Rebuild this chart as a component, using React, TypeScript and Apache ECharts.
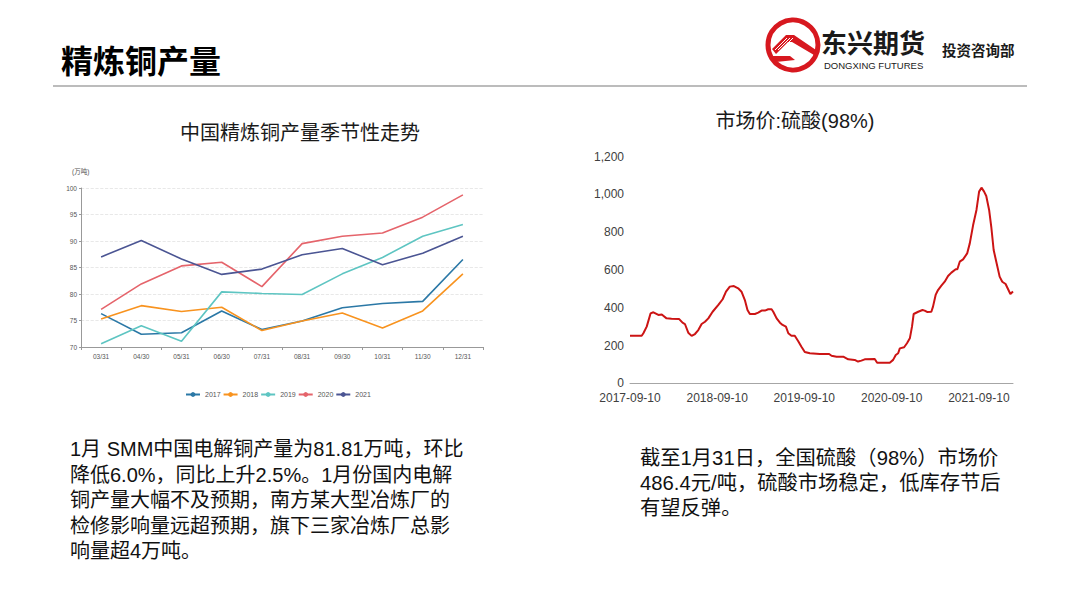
import React, { useEffect, useRef } from "react";
import * as echarts from "echarts";

// ---------- data: left chart (万吨) ----------
const months = ["03/31", "04/30", "05/31", "06/30", "07/31", "08/31", "09/30", "10/31", "11/30", "12/31"];
const years = ["2017", "2018", "2019", "2020", "2021"];
const prod2017 = [76.3, 72.4, 72.7, 76.8, 73.3, 74.9, 77.4, 78.2, 78.6, 86.5];
const prod2018 = [75.3, 77.8, 76.7, 77.5, 73.1, 74.9, 76.4, 73.6, 76.8, 83.8];
const prod2019 = [70.6, 74.0, 71.1, 80.4, 80.1, 79.9, 83.8, 86.9, 90.9, 93.1];
const prod2020 = [77.1, 81.9, 85.3, 86.0, 81.4, 89.5, 90.9, 91.5, 94.5, 98.7];
const prod2021 = [87.0, 90.1, 86.6, 83.7, 84.7, 87.4, 88.6, 85.5, 87.7, 90.9];
const prodYTicks = [70, 75, 80, 85, 90, 95, 100];

// ---------- data: right chart 市场价:硫酸(98%) ----------
const acidDates = [
  "2017-09-10", "2017-10-29", "2017-11-05", "2017-11-19", "2017-12-05", "2017-12-17",
  "2018-01-07", "2018-01-21", "2018-02-10", "2018-03-03", "2018-04-04", "2018-04-18",
  "2018-04-28", "2018-05-12", "2018-05-26", "2018-06-09", "2018-06-23", "2018-07-07",
  "2018-07-21", "2018-08-04", "2018-08-22", "2018-09-15", "2018-10-03", "2018-10-17",
  "2018-11-02", "2018-11-19", "2018-12-07", "2018-12-21", "2019-01-04", "2019-01-15",
  "2019-01-25", "2019-02-15", "2019-03-01", "2019-03-15", "2019-03-29", "2019-04-12",
  "2019-04-26", "2019-05-03", "2019-05-17", "2019-05-31", "2019-06-11", "2019-06-25",
  "2019-07-05", "2019-07-18", "2019-08-01", "2019-08-15", "2019-08-29", "2019-09-12",
  "2019-10-03", "2019-11-14", "2019-12-23", "2020-01-02", "2020-01-23", "2020-02-20",
  "2020-03-12", "2020-04-08", "2020-04-22", "2020-05-06", "2020-05-20", "2020-07-01",
  "2020-07-11", "2020-09-02", "2020-09-16", "2020-09-27", "2020-10-07", "2020-10-14",
  "2020-11-01", "2020-11-13", "2020-11-25", "2020-12-04", "2020-12-11", "2020-12-30",
  "2021-01-17", "2021-01-26", "2021-02-05", "2021-02-23", "2021-03-02", "2021-03-13",
  "2021-03-23", "2021-04-06", "2021-04-20", "2021-05-04", "2021-05-18", "2021-06-05",
  "2021-06-12", "2021-06-22", "2021-07-06", "2021-07-23", "2021-08-03", "2021-08-17",
  "2021-08-31", "2021-09-11", "2021-09-21", "2021-10-02", "2021-10-11", "2021-10-23",
  "2021-11-01", "2021-11-11", "2021-11-22", "2021-12-06", "2021-12-17", "2021-12-31",
  "2022-01-20", "2022-01-31",
];
const acidValues = [
  252, 252, 265, 300, 370, 376,
  362, 364, 344, 342, 340, 321,
  314, 268, 251, 261, 282, 314,
  326, 344, 379, 415, 445, 485,
  512, 515, 503, 485, 441, 388,
  367, 367, 374, 385, 385, 392,
  392, 379, 344, 321, 309, 300,
  265, 252, 252, 224, 194, 166,
  159, 155, 155, 146, 141, 141,
  127, 124, 115, 120, 127, 129,
  109, 109, 124, 150, 159, 185,
  191, 212, 238, 300, 367, 379,
  388, 385, 378, 379, 406, 468,
  494, 517, 538, 568, 586, 604,
  604, 644, 656, 688, 741, 838,
  918, 1015, 1036, 1015, 992, 918,
  829, 706, 644, 565, 538, 526,
  473, 486.4,
];
const acidStart = "2017-09-10";
const acidEnd = "2022-01-31";
const acidTickDates = ["2017-09-10", "2018-09-10", "2019-09-10", "2020-09-10", "2021-09-10"];

// ---------- texts ----------
const pageTitle = "精炼铜产量";
const leftTitle = "中国精炼铜产量季节性走势";
const leftUnit = "(万吨)";
const rightTitle = "市场价:硫酸(98%)";
const leftParagraph = [
  "1月 SMM中国电解铜产量为81.81万吨，环比",
  "降低6.0%，同比上升2.5%。1月份国内电解",
  "铜产量大幅不及预期，南方某大型冶炼厂的",
  "检修影响量远超预期，旗下三家冶炼厂总影",
  "响量超4万吨。",
];
const rightParagraph = [
  "截至1月31日，全国硫酸（98%）市场价",
  "486.4元/吨，硫酸市场稳定，低库存节后",
  "有望反弹。",
];

const FONT = "'Liberation Sans', 'Noto Sans CJK SC', sans-serif";
const CJK = "'Noto Sans CJK SC', sans-serif";

function parseLocal(s: string): number {
  const [y, m, d] = s.split("-").map(Number);
  return new Date(y, m - 1, d).getTime();
}
function pad(n: number) {
  return n < 10 ? "0" + n : "" + n;
}

function txt(text: string, x: number, y: number, size: number, extra: any = {}) {
  return {
    type: "text",
    x,
    y,
    silent: true,
    style: {
      text,
      fontSize: size,
      fontFamily: extra.fontFamily || FONT,
      fontWeight: extra.fontWeight || "normal",
      fill: extra.fill || "#1a1a1a",
      textAlign: extra.align || "left",
      align: extra.align || "left",
      textVerticalAlign: "middle",
      verticalAlign: "middle",
    },
  };
}

export default function App() {
  const ref = useRef<HTMLDivElement>(null);

  useEffect(() => {
    if (!ref.current) return;
    const chart = echarts.init(ref.current, undefined, { renderer: "svg" });

    const prodSeries = [prod2017, prod2018, prod2019, prod2020, prod2021];
    const colors = ["#2b78a6", "#f8931f", "#5ec5c2", "#e5646b", "#4b5593"];

    const graphic: any[] = [];
    // header
    graphic.push(txt(pageTitle, 61, 59, 32, { fontWeight: "bold", fontFamily: CJK, fill: "#000" }));
    graphic.push({
      type: "line",
      silent: true,
      shape: { x1: 53, y1: 86, x2: 1027, y2: 86 },
      style: { stroke: "#a6a6a6", lineWidth: 1.5 },
    });
    // logo
    graphic.push({
      type: "circle",
      silent: true,
      shape: { cx: 793, cy: 45, r: 25 },
      style: { fill: "#fff", stroke: "#d7181f", lineWidth: 5 },
    });
    graphic.push({
      type: "polygon",
      silent: true,
      shape: {
        points: [
          [772, 49], [786, 35], [794, 35], [816, 50], [814, 55], [792, 42], [788, 42], [776, 54],
        ],
      },
      style: { fill: "#d7181f" },
    });
    graphic.push({
      type: "polygon",
      silent: true,
      shape: { points: [[771, 56], [790, 56], [795, 60], [776, 62]] },
      style: { fill: "#d7181f" },
    });
    for (let i = 0; i < 3; i++) {
      graphic.push({
        type: "line",
        silent: true,
        shape: { x1: 775 + i * 3, y1: 50, x2: 787 + i * 3, y2: 38 },
        style: { stroke: "#fff", lineWidth: 1 },
      });
    }
    graphic.push(txt("东兴期货", 821, 41, 26, { fontWeight: "bold", fontFamily: CJK, fill: "#1a1a1a" }));
    graphic.push(txt("DONGXING FUTURES", 824, 65.5, 9.5, { fill: "#1a1a1a" }));
    graphic.push(txt("投资咨询部", 942, 49, 14.5, { fontWeight: "bold", fontFamily: CJK, fill: "#1a1a1a" }));

    // chart titles
    graphic.push(txt(leftTitle, 300, 131, 20, { align: "center", fontFamily: CJK, fill: "#1a1a1a" }));
    graphic.push(txt(leftUnit, 72, 171.5, 6.5, { fill: "#555" }));
    graphic.push(txt(rightTitle, 795, 121, 20, { align: "center", fill: "#1a1a1a" }));

    // paragraphs
    leftParagraph.forEach((line, i) => {
      graphic.push(txt(line, 70, 449 + i * 25.6, 20, { fill: "#111" }));
    });
    rightParagraph.forEach((line, i) => {
      graphic.push(txt(line, 640, 458 + i * 25, 20.3, { fill: "#111" }));
    });

    chart.setOption({
      animation: false,
      backgroundColor: "#fff",
      graphic,
      legend: {
        data: years,
        left: 180,
        top: 386,
        itemWidth: 14,
        itemHeight: 6,
        itemGap: 2,
        textStyle: { fontSize: 7, color: "#555", fontFamily: FONT },
      },
      grid: [
        { left: 81, top: 188, width: 402, height: 159, containLabel: false },
        { left: 630, top: 156.7, width: 383, height: 226.6, containLabel: false },
      ],
      xAxis: [
        {
          type: "category",
          gridIndex: 0,
          data: months,
          boundaryGap: true,
          axisLine: { lineStyle: { color: "#999", width: 1 } },
          axisTick: { show: true, length: 3, lineStyle: { color: "#999" } },
          axisLabel: { fontSize: 6.5, color: "#555", margin: 6, fontFamily: FONT },
        },
        {
          type: "value",
          gridIndex: 1,
          min: parseLocal(acidStart),
          max: parseLocal(acidEnd),
          axisLine: { show: true, lineStyle: { color: "#a6a6a6", width: 1 } },
          axisTick: { show: false },
          splitLine: { show: false },
          axisLabel: {
            fontSize: 12,
            color: "#404040",
            margin: 9,
            fontFamily: FONT,
            customValues: acidTickDates.map(parseLocal),
            formatter: (v: number) => {
              const d = new Date(v);
              return d.getFullYear() + "-" + pad(d.getMonth() + 1) + "-" + pad(d.getDate());
            },
          },
        },
      ],
      yAxis: [
        {
          type: "value",
          gridIndex: 0,
          min: prodYTicks[0],
          max: prodYTicks[prodYTicks.length - 1],
          interval: 5,
          axisLine: { show: true, lineStyle: { color: "#999", width: 1 } },
          axisTick: { show: true, length: 2, lineStyle: { color: "#999" } },
          axisLabel: { fontSize: 6.5, color: "#555", margin: 4, fontFamily: FONT },
          splitLine: { show: true, lineStyle: { color: "#e2e2e2", type: "dashed", width: 0.8 } },
        },
        {
          type: "value",
          gridIndex: 1,
          min: 0,
          max: 1200,
          interval: 200,
          axisLine: { show: false },
          axisTick: { show: false },
          splitLine: { show: false },
          axisLabel: {
            fontSize: 12,
            color: "#404040",
            margin: 6,
            fontFamily: FONT,
            formatter: (v: number) => v.toLocaleString("en-US"),
          },
        },
      ],
      series: [
        ...years.map((y, i) => ({
          name: y,
          type: "line",
          xAxisIndex: 0,
          yAxisIndex: 0,
          data: prodSeries[i],
          symbol: "circle",
          symbolSize: 5,
          showSymbol: false,
          color: colors[i],
          lineStyle: { width: 1.6, color: colors[i] },
        })),
        {
          name: rightTitle,
          type: "line",
          xAxisIndex: 1,
          yAxisIndex: 1,
          data: acidDates.map((d, i) => [parseLocal(d), acidValues[i]]),
          showSymbol: false,
          symbol: "none",
          lineStyle: { width: 2, color: "#cc1414" },
          color: "#cc1414",
        },
      ],
    });

    return () => chart.dispose();
  }, []);

  return (
    <div
      ref={ref}
      style={{ position: "fixed", left: 0, top: 0, width: 1080, height: 605, background: "#fff" }}
    />
  );
}
